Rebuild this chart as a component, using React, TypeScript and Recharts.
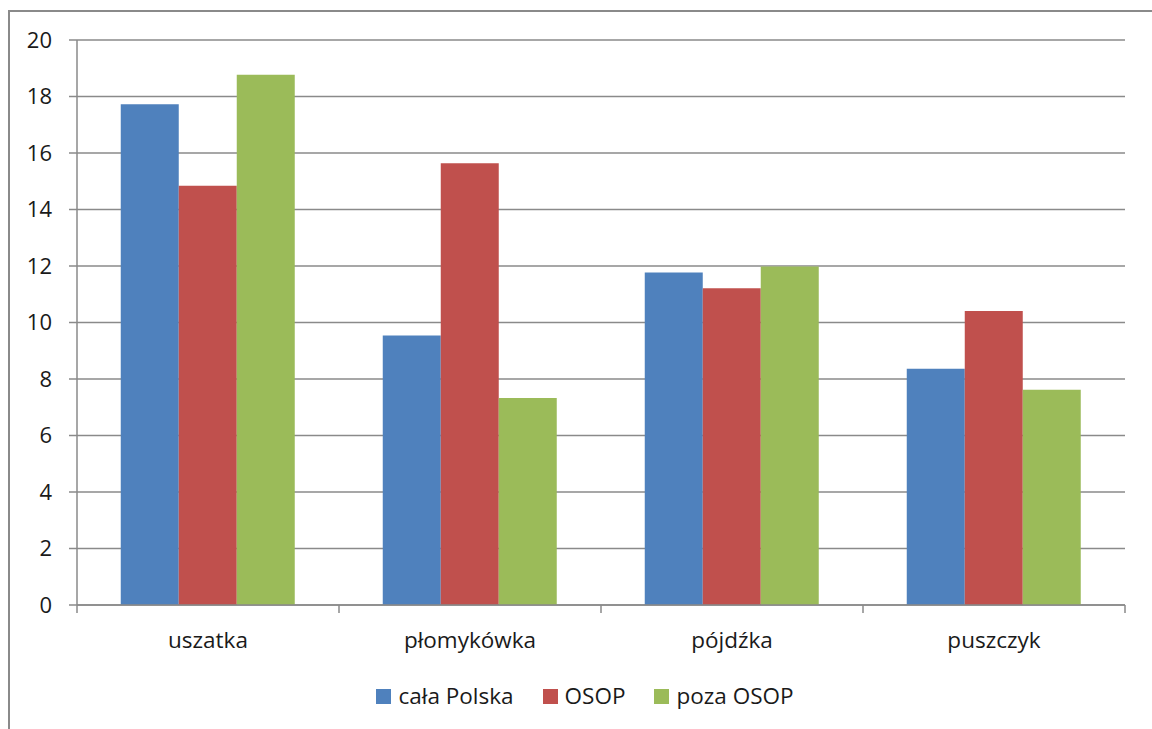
import React from "react";
import { BarChart, Bar, XAxis, YAxis, CartesianGrid, Legend } from "recharts";

// Owl species and the three survey groups
const categories = ["uszatka", "płomykówka", "pójdźka", "puszczyk"];
const seriesNames = ["cała Polska", "OSOP", "poza OSOP"];
const calaPolska = [17.73, 9.54, 11.77, 8.36];
const osop = [14.84, 15.64, 11.21, 10.41];
const pozaOsop = [18.77, 7.33, 11.98, 7.62];
const yTicks = [0, 2, 4, 6, 8, 10, 12, 14, 16, 18, 20];

const seriesColors = ["#4F81BD", "#C0504D", "#9BBB59"];
const gridColor = "#8a8a8a";
const font = "'Open Sans', 'Noto Sans', sans-serif";

const data = categories.map((name, i) => ({
  name,
  s0: calaPolska[i],
  s1: osop[i],
  s2: pozaOsop[i],
}));

const W = 1152;
const H = 729;

// Category label with tick marks on the band boundaries
const CategoryTick = (props: any) => {
  const { x, y, payload, index } = props;
  const half = payload && typeof payload.offset === "number" ? payload.offset : 131;
  const last = index === categories.length - 1;
  return (
    <g>
      <line x1={x - half} x2={x - half} y1={y} y2={y + 8} stroke={gridColor} strokeWidth={1.5} />
      {last && (
        <line x1={x + half} x2={x + half} y1={y} y2={y + 8} stroke={gridColor} strokeWidth={1.5} />
      )}
      <text x={x} y={y + 43} textAnchor="middle" fill="#1a1a1a" fontSize={22.5} fontFamily={font}>
        {payload.value}
      </text>
    </g>
  );
};

// Legend entries kept in series order
const LegendContent = (props: any) => {
  const items = [...(props.payload || [])].sort(
    (a: any, b: any) => seriesNames.indexOf(a.value) - seriesNames.indexOf(b.value)
  );
  return (
    <div
      style={{
        display: "flex",
        justifyContent: "center",
        alignItems: "center",
        height: 44,
        paddingLeft: 18,
        fontFamily: font,
        fontSize: 22.5,
        color: "#1a1a1a",
      }}
    >
      {items.map((it: any, i: number) => (
        <div
          key={i}
          style={{ display: "flex", alignItems: "center", marginLeft: i === 0 ? 0 : 29 }}
        >
          <span
            style={{ width: 15, height: 15, background: it.color, display: "inline-block", marginRight: 7 }}
          />
          <span style={{ lineHeight: "24px" }}>{it.value}</span>
        </div>
      ))}
    </div>
  );
};

export default function App() {
  return (
    <div style={{ position: "fixed", left: 0, top: 0, width: W, height: H, overflow: "hidden", background: "#fff" }}>
      <div
        style={{
          position: "absolute",
          left: 8,
          top: 10,
          width: 1300,
          height: 900,
          border: `2px solid ${gridColor}`,
          boxSizing: "border-box",
        }}
      />
      <div style={{ position: "absolute", left: 0, top: 0 }}>
        <BarChart
          width={W}
          height={H}
          data={data}
          margin={{ top: 40, right: 27, bottom: 11, left: 0 }}
          barCategoryGap="16.7%"
          barGap={0}
        >
          <CartesianGrid vertical={false} stroke={gridColor} strokeWidth={1.5} />
          <XAxis
            dataKey="name"
            height={69}
            interval={0}
            tickLine={false}
            tickSize={0}
            tickMargin={0}
            axisLine={{ stroke: gridColor, strokeWidth: 1.5 }}
            tick={<CategoryTick />}
          />
          <YAxis
            width={77}
            domain={[0, 20]}
            ticks={yTicks}
            interval={0}
            tickSize={8}
            tickMargin={17}
            axisLine={{ stroke: gridColor, strokeWidth: 1.5 }}
            tickLine={{ stroke: gridColor, strokeWidth: 1.5 }}
            tick={{ fill: "#1a1a1a", fontSize: 22, fontFamily: font }}
          />
          <Legend
            verticalAlign="bottom"
            height={44}
            itemSorter={null as any}
            wrapperStyle={{ left: 0, width: W }}
            content={<LegendContent />}
          />
          <Bar dataKey="s0" name={seriesNames[0]} fill={seriesColors[0]} isAnimationActive={false} />
          <Bar dataKey="s1" name={seriesNames[1]} fill={seriesColors[1]} isAnimationActive={false} />
          <Bar dataKey="s2" name={seriesNames[2]} fill={seriesColors[2]} isAnimationActive={false} />
        </BarChart>
      </div>
    </div>
  );
}
